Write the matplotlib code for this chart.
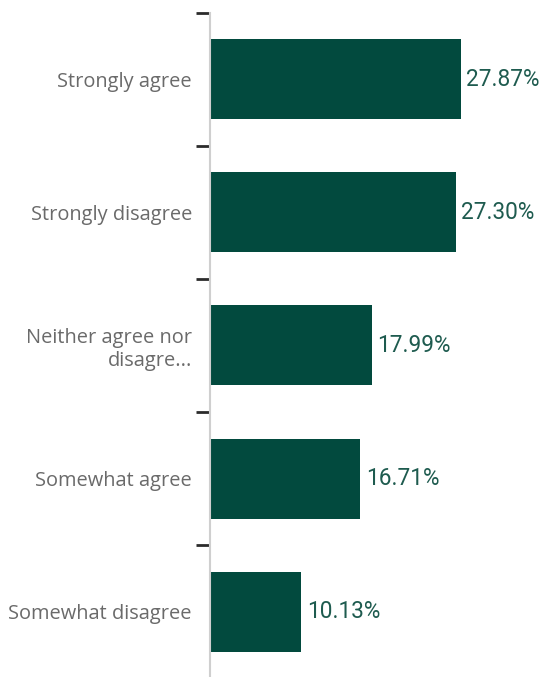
import matplotlib
matplotlib.use("Agg")
import matplotlib.pyplot as plt
import numpy as np

# data
categories = ["Strongly agree", "Strongly disagree", "Neither agree nor\ndisagre...",
              "Somewhat agree", "Somewhat disagree"]
values = [27.87, 27.30, 17.99, 16.71, 10.13]

bar_color = "#024A3E"
label_color = "#6A6A6A"
value_color = "#1E5B4F"

fig = plt.figure(figsize=(5.45, 6.77), dpi=100)
ax = fig.add_axes([210 / 545, 0, 335 / 545, 664.5 / 677])

y = np.arange(len(categories))
ax.barh(y, values, height=0.6, color=bar_color)

for yi, v in zip(y, values):
    ax.text(v + 0.6, yi, f"{v:.2f}%", va="center", ha="left",
            fontsize=16.3, color=value_color, family="Roboto")

ax.set_xlim(0, 37.2)
ax.set_ylim(len(categories) - 0.51, -0.5)

ax.set_yticks(y)
ax.set_yticklabels(categories, fontsize=14.4, color=label_color, family="Open Sans",
                   linespacing=1.2)
ax.tick_params(axis="y", which="major", length=0, pad=13)
ax.set_yticks(np.arange(len(categories)) - 0.5, minor=True)
ax.tick_params(axis="y", which="minor", length=10, width=2, color="#2b2b2b")
ax.set_xticks([])

for s in ["top", "right", "bottom"]:
    ax.spines[s].set_visible(False)
ax.spines["left"].set_color("#cfcfcf")
ax.spines["left"].set_linewidth(1.5)

fig.savefig("out.png", dpi=100)
